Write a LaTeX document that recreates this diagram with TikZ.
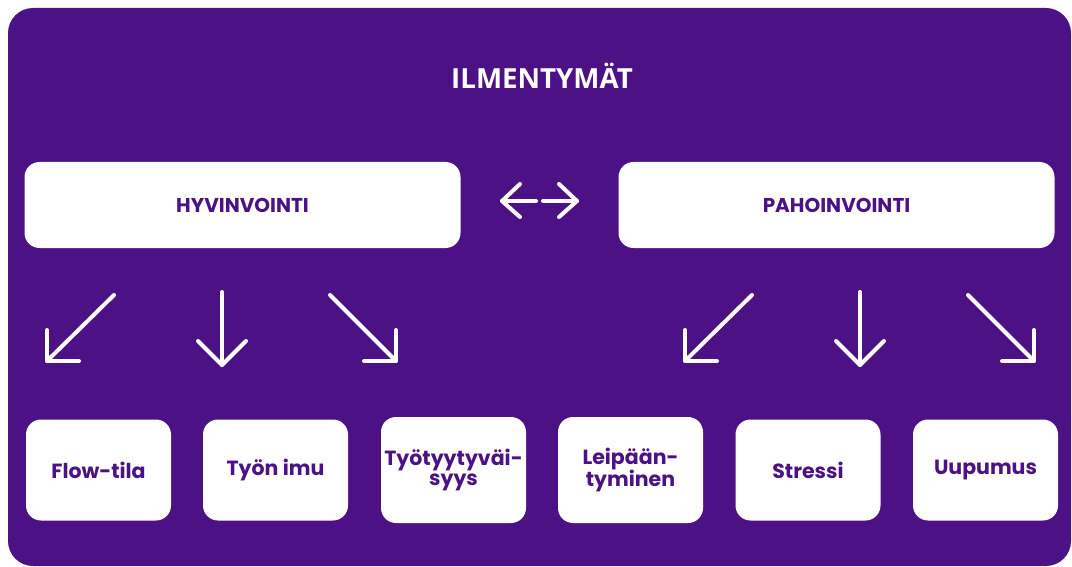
\documentclass[tikz,border=0pt]{standalone}
\usepackage{fontspec}
\usetikzlibrary{calc}
\setmainfont{Poppins}
\newfontfamily\titlefont{Open Sans}
\definecolor{deepviolet}{HTML}{4C1184}

\begin{document}
\begin{tikzpicture}[x=1pt,y=-1pt,
  panel/.style={fill=deepviolet},
  headbox/.style={fill=white, rounded corners=15pt, minimum width=436pt,
    minimum height=86pt, inner sep=0pt, text=deepviolet,
    font=\bfseries\fontsize{20}{20}\selectfont},
  itembox/.style={fill=white, rounded corners=15pt, minimum width=145pt,
    minimum height=101pt, inner sep=0pt, text=deepviolet, align=center,
    font=\bfseries\fontsize{20.5}{19.5}\selectfont},
  tallbox/.style={itembox, minimum height=106pt},
  icon/.style={draw=white, line width=4pt, line cap=round, line join=round}]

\useasboundingbox (0,0) rectangle (1072,567);
\fill[panel, rounded corners=25pt] (8,8) rectangle (1071,566);

% title
\node[text=white, font=\titlefont\bfseries\fontsize{27.7}{28}\selectfont] (title) at (542,76) {ILMENTYMÄT};

% upper row
\node[headbox] (hyvin) at (242.5,205) {HYVINVOINTI};
\node[headbox] (pahoin) at (836.5,205) {PAHOINVOINTI};

% double arrow between the two states
\coordinate (la) at (502,201);
\coordinate (lb) at (536,201);
\coordinate (ra) at (543,201);
\coordinate (rb) at (577,201);
\draw[icon] (lb) -- (la);
\draw[icon] ($(la)+(18,-17)$) -- (la) -- ($(la)+(18,16)$);
\draw[icon] (ra) -- (rb);
\draw[icon] ($(rb)+(-18,-17)$) -- (rb) -- ($(rb)+(-18,16)$);

% lower row
\node[itembox] (flow) at (98.5,470) {Flow-tila};
\node[itembox] (imu) at (275.5,470) {Työn imu};
\node[tallbox] (tyyt) at (453.5,470) {Työtyytyväi-\\syys};
\node[tallbox] (leip) at (630.5,470) {Leipään-\\tyminen};
\node[itembox] (stress) at (808,470) {Stressi};
\node[itembox] (uup) at (985.5,470) {Uupumus};

% arrow icons pointing down towards the lower row
\foreach \dx/\n in {0/a, 638/b}{
  % diagonal to the left
  \coordinate (s1\n) at (114+\dx,295);
  \coordinate (e1\n) at (47+\dx,361);
  \draw[icon] (s1\n) -- (e1\n);
  \draw[icon] ($(e1\n)+(0,-31)$) -- (e1\n) -- ($(e1\n)+(32,0)$);
  % straight down
  \coordinate (s2\n) at (222+\dx,292);
  \coordinate (e2\n) at (222+\dx,365);
  \draw[icon] (s2\n) -- (e2\n);
  \draw[icon] ($(e2\n)+(-24,-24)$) -- (e2\n) -- ($(e2\n)+(24,-24)$);
  % diagonal to the right
  \coordinate (s3\n) at (330+\dx,295);
  \coordinate (e3\n) at (396+\dx,361);
  \draw[icon] (s3\n) -- (e3\n);
  \draw[icon] ($(e3\n)+(0,-31)$) -- (e3\n) -- ($(e3\n)+(-32,0)$);
}
\end{tikzpicture}
\end{document}
